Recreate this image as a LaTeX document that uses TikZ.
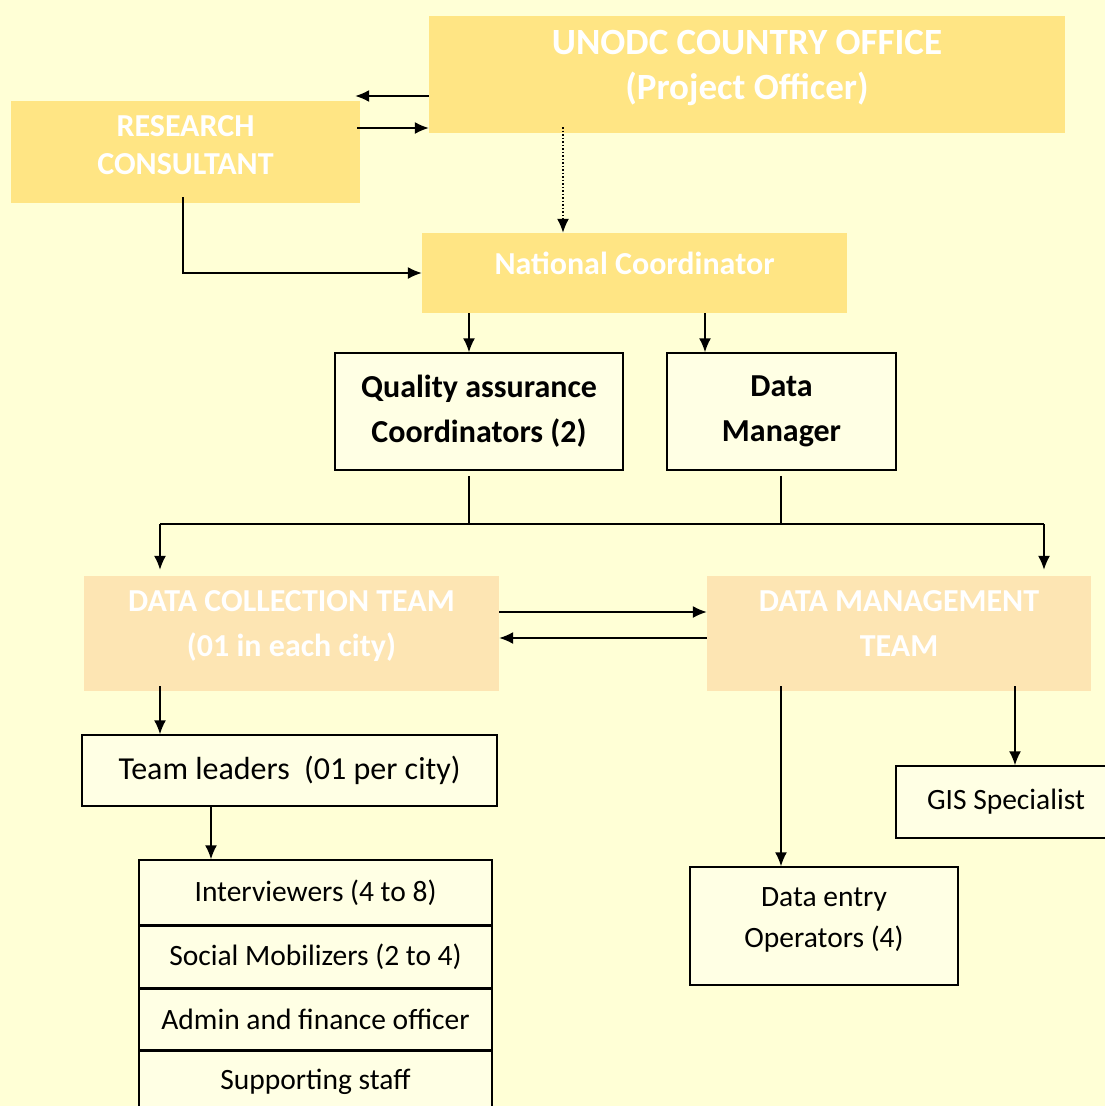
\documentclass[tikz,border=0pt]{standalone}
\usepackage{fontspec}
\setmainfont{Carlito}
\usetikzlibrary{arrows.meta,positioning}
\definecolor{bgyellow}{RGB}{255,255,214}
\definecolor{headyellow}{RGB}{255,229,132}
\definecolor{teamorange}{RGB}{253,229,179}
\definecolor{staffwhite}{RGB}{255,255,228}
\tikzset{
  org/.style={rectangle, inner sep=0pt, align=center},
  head box/.style={org, fill=headyellow, text=white, text depth=20pt},
  team box/.style={org, fill=teamorange, text=white, text depth=20pt,
    font={\bfseries\fontsize{32}{45}\selectfont}},
  staff box/.style={org, draw=black, line width=1.5pt, fill=staffwhite, text=black},
  link/.style={line width=1.5pt, -{Latex[length=14pt,width=12pt]}},
  plain link/.style={line width=1.5pt},
}
\begin{document}
\begin{tikzpicture}[x=1pt,y=-1pt]
  \path[use as bounding box, fill=bgyellow] (0,0) rectangle (1105,1106);
  \clip (0,0) rectangle (1105,1106);

  % top level
  \node[head box, minimum width=636pt, minimum height=117pt,
        font={\bfseries\fontsize{37}{45}\selectfont}] (unodc) at (747,74.5)
        {UNODC COUNTRY OFFICE\\(Project Officer)};
  \node[head box, minimum width=349pt, minimum height=102pt, text depth=13pt,
        font={\bfseries\fontsize{32}{38}\selectfont}] (rc) at (185.5,152)
        {RESEARCH\\CONSULTANT};
  \node[head box, minimum width=425pt, minimum height=80pt,
        font={\bfseries\fontsize{32}{38}\selectfont}] (nc) at (634.5,273)
        {National Coordinator};

  % coordinators
  \node[staff box, minimum width=288pt, minimum height=117pt,
        font={\bfseries\fontsize{32}{45}\selectfont}] (qa) at (479,411.5)
        {Quality assurance\\Coordinators (2)};
  \node[staff box, minimum width=229pt, minimum height=117pt,
        font={\bfseries\fontsize{32}{45}\selectfont}] (dm) at (781.5,411.5)
        {Data\\Manager};

  % teams
  \node[team box, minimum width=415pt, minimum height=115pt] (dct) at (291.5,633.5)
        {DATA COLLECTION TEAM\\(01 in each city)};
  \node[team box, minimum width=384pt, minimum height=115pt] (dmt) at (899,633.5)
        {DATA MANAGEMENT\\TEAM};

  % field staff
  \node[staff box, minimum width=415pt, minimum height=71pt,
        font={\fontsize{32}{40}\selectfont}] (tl) at (289.5,770.5)
        {Team leaders~~(01 per city)};
  \begin{scope}[every node/.style={staff box, minimum width=353pt,
        font={\fontsize{29.5}{40}\selectfont}}]
    \node[minimum height=65pt] (iv) at (315.5,892.5) {Interviewers (4 to 8)};
    \node[minimum height=61pt, below=0pt of iv] (sm) {Social Mobilizers (2 to 4)};
    \node[minimum height=61pt, below=0pt of sm] (af) {Admin and finance officer};
    \node[minimum height=61pt, below=0pt of af] (ss) {Supporting staff};
  \end{scope}
  \node[staff box, minimum width=268pt, minimum height=118pt, text depth=16pt,
        font={\fontsize{29.5}{41}\selectfont}] (de) at (824,926)
        {Data entry\\Operators (4)};
  \node[staff box, minimum width=220pt, minimum height=72pt,
        font={\fontsize{29.5}{40}\selectfont}] (gis) at (1006,802)
        {GIS Specialist};

  % connectors
  \draw[link] (unodc.west |- 0,96) -- ([xshift=-5pt]rc.east |- 0,96);
  \draw[link] ([xshift=-3pt]rc.east |- 0,128) -- (unodc.west |- 0,128);
  \draw[link, dotted] ([yshift=6pt]unodc.south -| 563,0) -- (nc.north -| 563,0);
  \draw[link] ([yshift=6pt]rc.south -| 183,0) |- (nc.west);
  \draw[link] (nc.south -| 469,0) -- (qa.north -| 469,0);
  \draw[link] (nc.south -| 705,0) -- (dm.north -| 705,0);

  \coordinate (busl) at (160,524);
  \coordinate (busr) at (1044,524);
  \draw[plain link] ([yshift=-5pt]qa.south -| 469,0) -- (busl -| 469,0);
  \draw[plain link] ([yshift=-5pt]dm.south -| 781,0) -- (busl -| 781,0);
  \draw[plain link] (busl) -- (busr);
  \draw[link] (busl) -- ([yshift=6pt]dct.north -| busl);
  \draw[link] (busr) -- ([yshift=6pt]dmt.north -| busr);

  \draw[link] (dct.east |- 0,612) -- (dmt.west |- 0,612);
  \draw[link] (dmt.west |- 0,638) -- (dct.east |- 0,638);

  \draw[link] ([yshift=5pt]dct.south -| 160,0) -- (tl.north -| 160,0);
  \draw[link] (tl.south -| 211,0) -- (iv.north -| 211,0);
  \draw[link] ([yshift=5pt]dmt.south -| 781,0) -- (de.north -| 781,0);
  \draw[link] ([yshift=5pt]dmt.south -| 1015,0) -- (gis.north -| 1015,0);
\end{tikzpicture}
\end{document}
